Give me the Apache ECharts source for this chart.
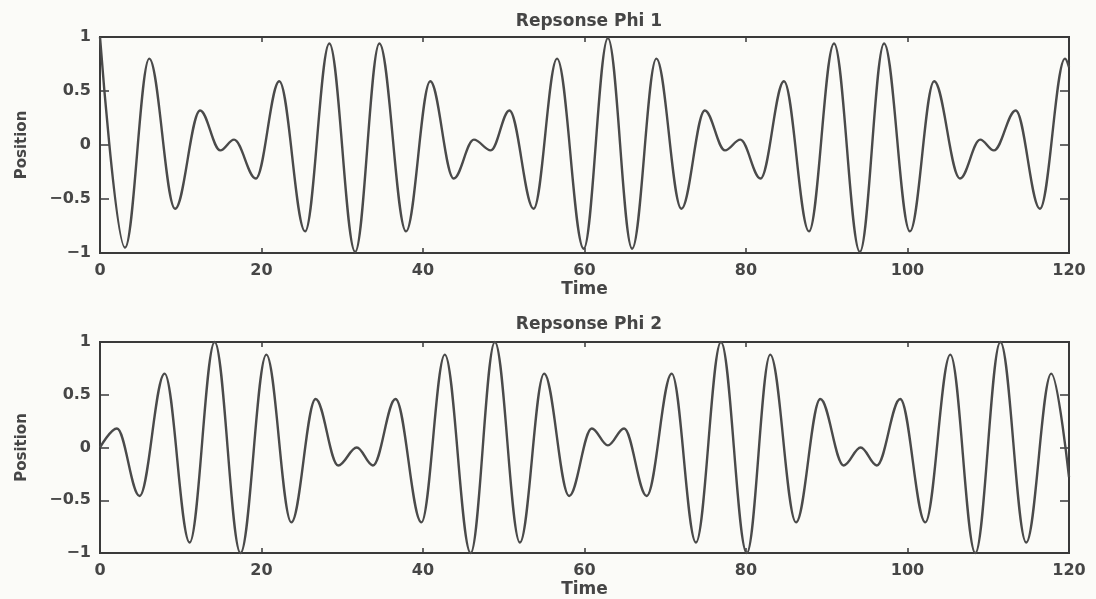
<!DOCTYPE html>
<html>
<head>
<meta charset="utf-8">
<script src="https://cdn.jsdelivr.net/npm/echarts@6/dist/echarts.min.js"></script>
<style>
  html, body { margin: 0; padding: 0; background: #fbfbf8; }
  #chart { width: 1096px; height: 599px; }
</style>
</head>
<body>
<div id="chart"></div>
<script>
// Panel titles
const panelTitles = ['Repsonse Phi 1', 'Repsonse Phi 2'];

// Axis ticks and their labels
const xTicks = [0, 20, 40, 60, 80, 100, 120];
const yTicks = [-1, -0.5, 0, 0.5, 1];
const yTickLabels = ['\u22121', '\u22120.5', '0', '0.5', '1'];

// Phi 1: turning points of the response (time, position)
const phi1Time = [0, 3.1, 6.1, 9.3, 12.4, 14.9, 16.6, 19.3, 22.2, 25.4, 28.4,
  31.6, 34.6, 37.9, 40.9, 43.8, 46.3, 48.4, 50.7, 53.7, 56.6,
  59.9, 62.9, 65.9, 68.9, 72.0, 74.9, 77.4, 79.3, 81.8, 84.7, 87.8,
  90.9, 94.1, 97.1, 100.3, 103.3, 106.5, 109.0, 110.7, 113.4, 116.4, 119.5, 120];
const phi1Value = [1, -0.95, 0.80, -0.59, 0.32, -0.05, 0.05, -0.31, 0.59, -0.80, 0.94,
  -0.99, 0.94, -0.80, 0.59, -0.31, 0.05, -0.05, 0.32, -0.59, 0.80,
  -0.96, 0.99, -0.96, 0.80, -0.59, 0.32, -0.05, 0.05, -0.31, 0.59, -0.80,
  0.94, -0.99, 0.94, -0.80, 0.59, -0.31, 0.05, -0.05, 0.32, -0.59, 0.80, 0.72];

// Phi 2: turning points of the response (time, position)
const phi2Time = [0, 2.1, 4.9, 8.0, 11.1, 14.2, 17.4, 20.6, 23.7, 26.7,
  29.5, 31.8, 33.8, 36.6, 39.8, 42.7, 45.9, 48.9, 52.0, 55.0, 58.1,
  60.9, 62.9, 64.9, 67.7, 70.8, 73.8, 76.9, 80.1, 83.0, 86.2, 89.2,
  92.1, 94.2, 96.2, 99.1, 102.2, 105.3, 108.4, 111.5, 114.7, 117.8, 120];
const phi2Value = [0, 0.18, -0.46, 0.70, -0.90, 1.0, -1.0, 0.88, -0.71, 0.46,
  -0.17, 0.0, -0.17, 0.46, -0.71, 0.88, -1.0, 1.0, -0.90, 0.70, -0.46,
  0.18, 0.02, 0.18, -0.46, 0.70, -0.90, 1.0, -1.0, 0.88, -0.71, 0.46,
  -0.17, 0.0, -0.17, 0.46, -0.71, 0.88, -1.0, 1.0, -0.90, 0.70, -0.28];

const ink = '#3a3a3a';
const textInk = '#464646';
const curveColor = '#4a4a4a';
const font = 'DejaVu Sans';

function zip(xs, ys) { return xs.map((x, i) => [x, ys[i]]); }
function yLabel(v) {
  const i = yTicks.findIndex(t => Math.abs(t - v) < 1e-9);
  return i >= 0 ? yTickLabels[i] : '';
}

const grids = [
  { left: 100, right: 27, top: 37, height: 216 },
  { left: 100, right: 27, top: 342, height: 213 }
];

const tickStyle = { color: ink, width: 1.5 };
const xAxes = [];
const yAxes = [];
grids.forEach((g, gi) => {
  const xBase = {
    gridIndex: gi, type: 'value',
    min: xTicks[0], max: xTicks[xTicks.length - 1], interval: xTicks[1] - xTicks[0],
    axisLine: { show: false, onZero: false },
    splitLine: { show: false }
  };
  const yBase = {
    gridIndex: gi, type: 'value',
    min: yTicks[0], max: yTicks[yTicks.length - 1], interval: yTicks[1] - yTicks[0],
    axisLine: { show: false, onZero: false },
    splitLine: { show: false }
  };
  // bottom axis with labels and name
  xAxes.push(Object.assign({}, xBase, {
    position: 'bottom',
    name: 'Time', nameLocation: 'middle', nameGap: 28,
    nameTextStyle: { fontFamily: font, fontSize: 17, fontWeight: 'bold', color: textInk },
    axisTick: { show: true, inside: true, length: 5, lineStyle: tickStyle },
    axisLabel: { fontFamily: font, fontSize: 16, fontWeight: 'bold', color: textInk, margin: 10 }
  }));
  // top axis: ticks only
  xAxes.push(Object.assign({}, xBase, {
    position: 'top',
    axisTick: { show: true, inside: true, length: 5, lineStyle: tickStyle },
    axisLabel: { show: false }
  }));
  // left axis with labels and name
  yAxes.push(Object.assign({}, yBase, {
    position: 'left',
    name: 'Position', nameLocation: 'middle', nameGap: 70,
    nameTextStyle: { fontFamily: font, fontSize: 15, fontWeight: 'bold', color: textInk },
    axisTick: { show: true, inside: true, length: 9, lineStyle: tickStyle },
    axisLabel: { fontFamily: font, fontSize: 16, fontWeight: 'bold', color: textInk, margin: 9, formatter: yLabel }
  }));
  // right axis: ticks only
  yAxes.push(Object.assign({}, yBase, {
    position: 'right',
    axisTick: { show: true, inside: true, length: 9, lineStyle: tickStyle },
    axisLabel: { show: false }
  }));
});

const chart = echarts.init(document.getElementById('chart'), null, { renderer: 'canvas' });
chart.setOption({
  backgroundColor: '#fbfbf8',
  animation: false,
  title: [
    { text: panelTitles[0], left: 584, top: 8, textAlign: 'center',
      textStyle: { fontFamily: font, fontSize: 17, fontWeight: 'bold', color: textInk } },
    { text: panelTitles[1], left: 584, top: 311, textAlign: 'center',
      textStyle: { fontFamily: font, fontSize: 17, fontWeight: 'bold', color: textInk } }
  ],
  grid: grids.map(g => Object.assign({ show: true, borderColor: ink, borderWidth: 2,
    backgroundColor: 'transparent', containLabel: false }, g)),
  xAxis: xAxes,
  yAxis: yAxes,
  series: [
    { type: 'line', xAxisIndex: 0, yAxisIndex: 0, data: zip(phi1Time, phi1Value),
      showSymbol: false, smooth: 0.36, smoothMonotone: 'x', clip: false,
      lineStyle: { color: curveColor, width: 2.4 } },
    { type: 'line', xAxisIndex: 2, yAxisIndex: 2, data: zip(phi2Time, phi2Value),
      showSymbol: false, smooth: 0.36, smoothMonotone: 'x', clip: false,
      lineStyle: { color: curveColor, width: 2.4 } }
  ]
});
</script>
</body>
</html>
